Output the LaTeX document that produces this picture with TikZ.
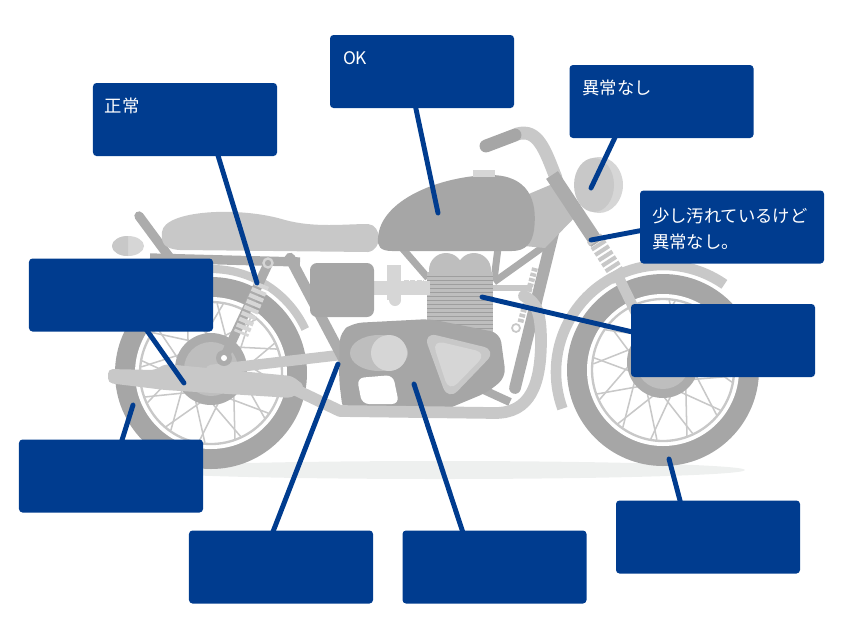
\documentclass[tikz,border=0pt]{standalone}
\usepackage{tikz}
\usetikzlibrary{calc}
\usepackage{fontspec}
\newfontfamily\jpfont{Noto Sans CJK JP}
\definecolor{cobalt}{RGB}{0, 60, 143}
\definecolor{tyregray}{RGB}{166, 166, 166}
\definecolor{framegray}{RGB}{172, 172, 172}
\definecolor{cylgray}{RGB}{190, 190, 190}
\definecolor{partgray}{RGB}{200, 200, 200}
\definecolor{palegray}{RGB}{214, 214, 214}
\definecolor{fingray}{RGB}{158, 158, 158}
\definecolor{shadowgray}{RGB}{238, 240, 239}

\tikzset{
    callout/.style={fill=cobalt, rounded corners=3pt, minimum width=5.52cm, minimum height=2.19cm, inner sep=0pt},
    leader/.style={draw=cobalt, line width=4.2pt, line cap=round},
    note/.style={text=white, font={\jpfont\fontsize{14.8pt}{23pt}\selectfont}, anchor=north west, inner sep=0pt, align=left},
    spoke/.style={draw=partgray, line width=1.3pt},
}

\begin{document}
\begin{tikzpicture}[x=0.03cm, y=-0.03cm]
            \useasboundingbox (0,0) rectangle (845,635);
            % Ground shadow
            \fill[shadowgray] (440,470) ellipse[x radius=305, y radius=9];
            % Rear fender
            \draw[partgray, line width=7pt] (211,373) ++(215:104) arc[start angle=215, end angle=335, radius=104];
            % Wheels: rear, front
            \foreach \cx/\cy/\hy in {211/373/369, 663/370/362} {
                \fill[tyregray]                 (\cx,\cy) circle[radius=96];
                \fill[white]                    (\cx,\cy) circle[radius=76];
                \draw[partgray, line width=2pt] (\cx,\cy) circle[radius=71];
                \foreach \a in {0,30,...,330} {
                    \draw[spoke] ($(\cx,\hy)+({\a}:26)$)    -- ($(\cx,\cy)+({\a+40}:70)$);
                    \draw[spoke] ($(\cx,\hy)+({\a+15}:26)$) -- ($(\cx,\cy)+({\a-25}:70)$);
                }
                \fill[framegray] (\cx,\hy) circle[radius=36];
                \fill[cylgray]   (\cx,\hy) circle[radius=27];
            }
            % Front fender & lower fork
            \draw[partgray, line width=9pt] (663,372) ++(160:107) arc[start angle=160, end angle=305, radius=107];
            \draw[partgray, line width=9pt, line cap=round] (618,276) -- (658,358);
            % Frame
            \draw[framegray, line width=8pt, line cap=round]  (139,216) -- (170,258);
            \draw[framegray, line width=8pt]                  (150,258) -- (300,262);
            \draw[partgray,  line width=9pt, line cap=round]  (211,370) -- (340,355);
            \draw[framegray, line width=9pt, line cap=round]  (290,258) -- (345,362);
            \draw[framegray, line width=10pt, line cap=round] (560,205) -- (515,388);
            \draw[framegray, line width=6pt]                  (402,248) -- (428,278);
            \draw[framegray, line width=6pt]                  (498,248) -- (494,280);
            \draw[framegray, line width=6pt]                  (550,242) -- (494,282);
            \draw[framegray, line width=7pt]                  (462,380) -- (510,402);
            \draw[partgray,  line width=5pt]                  (430,288) -- (532,288);
            % Stand
            \draw[partgray, line width=5pt, dash pattern=on 3pt off 1.5pt] (535,268) -- (520,324);
            \draw[partgray, line width=1.5pt] (516,328) circle[radius=4];
            % Engine
            \fill[cylgray] (446,270) circle[radius=17];
            \fill[cylgray] (474,270) circle[radius=17];
            \fill[cylgray] (427,272) rectangle (493,342);
            \foreach \y in {276,280,...,340}
                \draw[fingray, line width=0.5pt] (427,\y) -- (493,\y);
            \fill[tyregray, rounded corners=8pt] (340,332) -- (353,323) -- (430,319) -- (500,333) -- (506,377)
                 -- (488,392) -- (440,412) -- (343,412) -- (339,380) -- cycle;
            \fill[white, rounded corners=6pt] (357,378) -- (393,375) -- (399,404) -- (362,404) -- cycle;
            \fill[cylgray]  (379,353) ellipse[x radius=29, y radius=18];
            \fill[palegray] (389,353) circle[radius=18];
            \fill[partgray, rounded corners=12pt] (423,332) -- (497,350) -- (448,401) -- cycle;
            \fill[palegray, rounded corners=10pt] (432,340) -- (487,353) -- (449,392) -- cycle;
            % Exhaust pipe & muffler
            \draw[partgray, line width=10pt, line cap=round, line join=round] (296,390) -- (340,411) -- (495,413)
                 .. controls (530,413) and (541,385) .. (541,340) .. controls (541,312) and (536,302) .. (524,296);
            \fill[partgray, rounded corners=4pt] (108,369) -- (155,370) -- (165,364) -- (292,376) -- (305,386)
                 -- (292,398) -- (165,390) -- (108,383) -- cycle;
            % Carburettor & side cover
            \fill[palegray] (372,281) rectangle (430,295);
            \fill[palegray] (387,265) rectangle (401,300);
            \fill[palegray] (395,300) circle[radius=6];
            \draw[palegray, line width=7pt, dash pattern=on 4pt off 1.5pt] (404,284) -- (424,284);
            \fill[tyregray, rounded corners=6pt] (310,263) rectangle (374,317);
            % Rear shock
            \draw[framegray, line width=8pt, line cap=round] (268,264) -- (224,358);
            \draw[palegray, line width=13pt, dash pattern=on 3.5pt off 2pt] (262,284) -- (241,334);
            \draw[palegray, line width=2pt] (268,263) circle[radius=4.5];
            \fill[framegray] (224,358) circle[radius=8];
            \fill[white]     (224,358) circle[radius=3];
            % Seat & tail light
            \fill[partgray] (162,232) .. controls (164,210) and (240,206) .. (285,220) .. controls (315,228) and (345,224) .. (368,224)
                 .. controls (382,225) and (383,250) .. (368,252) -- (180,250) .. controls (163,249) and (161,242) .. (162,232) -- cycle;
            \fill[palegray] (128,246) ellipse[x radius=16, y radius=10];
            \fill[partgray] (128,236) arc[start angle=270, end angle=90, x radius=16, y radius=10] -- cycle;
            % Tank
            \fill[cylgray] (524,196) -- (562,180) -- (580,212) -- (545,248) -- (524,246) -- cycle;
            \fill[tyregray] (378,238) .. controls (380,200) and (440,176) .. (490,175) .. controls (528,175) and (538,200) .. (534,230)
                 .. controls (532,244) and (525,251) .. (512,251) -- (392,251) .. controls (380,251) and (377,246) .. (378,238) -- cycle;
            \fill[palegray] (473,170) rectangle (495,177);
            % Headlight, handlebar, fork
            \fill[palegray] (599,185) ellipse[x radius=24, y radius=28];
            \fill[partgray] (594,185) ellipse[x radius=20, y radius=27];
            \draw[partgray, line width=11pt, line cap=round] (517,134) .. controls (538,128) and (545,150) .. (556,178);
            \draw[tyregray, line width=11pt, line cap=round] (486,146) -- (515,135);
            \draw[framegray, line width=12pt] (552,175) -- (597,243);
            \draw[partgray, line width=14pt, dash pattern=on 3.5pt off 2pt] (594,238) -- (621,280);
            % Callout boxes
            \node[callout] (b1)  at (185,119.5) {};
            \node[callout] (b2)  at (422,71.5)  {};
            \node[callout] (b3)  at (661.5,101.5) {};
            \node[callout] (b4)  at (732,227)   {};
            \node[callout] (b5)  at (121,295)   {};
            \node[callout] (b6)  at (723,340.5) {};
            \node[callout] (b7)  at (111,476)   {};
            \node[callout] (b8)  at (281,567)   {};
            \node[callout] (b9)  at (494.5,567) {};
            \node[callout] (b10) at (708,537)   {};
            % Leader lines
            \coordinate (p1)  at (257,283);
            \coordinate (p2)  at (438,213);
            \coordinate (p3)  at (591,188);
            \coordinate (p4)  at (591,240);
            \coordinate (p5)  at (184,383);
            \coordinate (p6)  at (482,297);
            \coordinate (p7)  at (133,405);
            \coordinate (p8)  at (338,364);
            \coordinate (p9)  at (414,384);
            \coordinate (p10) at (669,459);
            \draw[leader] ($(b1.south)+(32,-4)$)  -- (p1);
            \draw[leader] ($(b2.south)+(-7,-4)$)  -- (p2);
            \draw[leader] ($(b3.south)+(-45,-4)$) -- (p3);
            \draw[leader] ($(b4.west)+(4,3)$)     -- (p4);
            \draw[leader] ($(b5.south)+(24,-4)$)  -- (p5);
            \draw[leader] ($(b6.west)+(4,-8)$)    -- (p6);
            \draw[leader] ($(b7.north)+(10,4)$)   -- (p7);
            \draw[leader] ($(b8.north)+(-9,4)$)   -- (p8);
            \draw[leader] ($(b9.north)+(-31,4)$)  -- (p9);
            \draw[leader] ($(b10.north)+(-27,4)$) -- (p10);
            % Notes
            \node[note] (t1) at ($(b1.north west)+(12,15)$) {正常};
            \node[note] (t2) at ($(b2.north west)+(13,17)$) {OK};
            \node[note] (t3) at ($(b3.north west)+(13,15)$) {異常なし};
            \node[note] (t4) at ($(b4.north west)+(12,17)$) {少し汚れているけど\\異常なし。};
\end{tikzpicture}
\end{document}
